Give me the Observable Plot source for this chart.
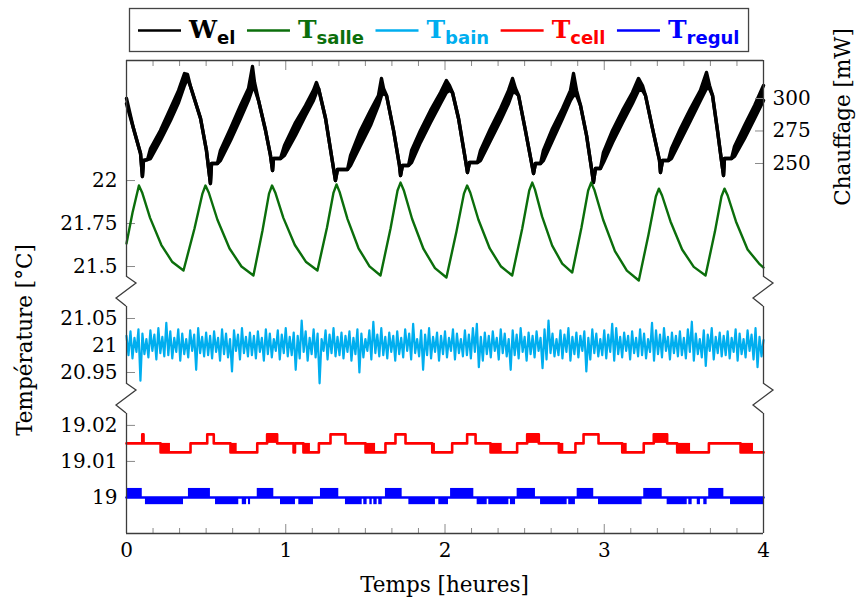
<!DOCTYPE html>
<html>
<head>
<meta charset="utf-8">
<script src="https://cdn.jsdelivr.net/npm/d3@7"></script>
<script src="https://cdn.jsdelivr.net/npm/@observablehq/plot@0.6"></script>
<style>
  html, body { margin: 0; padding: 0; background: #fff; }
  #chart { position: relative; width: 858px; height: 606px; overflow: hidden; background: #fff; }
  #chart svg { position: absolute; left: 0; }
</style>
</head>
<body>
<div id="chart"></div>
<script>
// ---------------- data ----------------
const hourTicks = [0, 1, 2, 3, 4];
const minorTickMinutes = [10, 20, 30, 40, 50];
const tempTicksTop = [21.5, 21.75, 22];
const tempTicksMid = [20.95, 21, 21.05];
const tempTicksLow = [19, 19.01, 19.02];
const powerTicks = [250, 275, 300];
const tempTopDomain = [21.442, 22.698];
const tempMidDomain = [20.9296, 21.0722];
const tempLowDomain = [18.99, 19.0233];
const powerDomain = [163.1, 329.2];

const legendNames = ["W", "T", "T", "T", "T"];
const legendSubs = ["el", "salle", "bain", "cell", "regul"];
const legendColors = ["#000000", "#0b6e0b", "#00aeef", "#ff0000", "#0000ff"];

// W_el [hours, lower edge mW, upper edge mW] (noisy band)
const wElRows = [
  [0.000, 296.0, 300.0], [0.044, 276.9, 276.9], [0.088, 257.7, 257.7], [0.100, 240.0, 240.0],
  [0.107, 252.3, 252.3], [0.132, 253.0, 253.0], [0.151, 253.8, 261.5], [0.213, 267.7, 275.4],
  [0.276, 283.1, 292.3], [0.327, 296.9, 306.2], [0.364, 310.0, 319.2], [0.383, 315.4, 318.5],
  [0.402, 309.2, 309.2], [0.465, 284.6, 284.6], [0.502, 260.0, 260.0], [0.527, 234.6, 234.6],
  [0.534, 250.0, 250.0], [0.571, 250.0, 250.0], [0.590, 252.3, 260.0], [0.653, 267.7, 276.9],
  [0.716, 284.6, 294.6], [0.766, 298.5, 307.7], [0.791, 307.7, 324.6], [0.804, 307.7, 312.3],
  [0.829, 298.5, 298.5], [0.873, 275.4, 275.4], [0.904, 256.2, 256.2], [0.917, 244.6, 244.6],
  [0.923, 253.8, 253.8], [0.967, 253.8, 253.8], [0.992, 256.2, 263.8], [1.061, 271.5, 281.5],
  [1.124, 286.9, 294.6], [1.174, 298.5, 306.2], [1.193, 304.6, 312.3], [1.206, 307.7, 307.7],
  [1.250, 284.6, 284.6], [1.300, 246.2, 246.2], [1.312, 236.9, 236.9], [1.325, 245.4, 245.4],
  [1.388, 245.4, 245.4], [1.407, 248.5, 256.2], [1.469, 263.8, 275.4], [1.532, 279.2, 290.8],
  [1.582, 294.6, 302.3], [1.601, 302.3, 315.4], [1.614, 303.8, 307.7], [1.633, 302.3, 302.3],
  [1.677, 275.4, 275.4], [1.714, 248.5, 248.5], [1.721, 240.8, 240.8], [1.733, 248.5, 248.5],
  [1.771, 248.5, 248.5], [1.790, 250.8, 260.0], [1.846, 266.2, 275.4], [1.909, 281.5, 290.8],
  [1.972, 296.2, 304.6], [2.009, 304.6, 313.8], [2.028, 306.2, 310.0], [2.047, 304.6, 304.6],
  [2.085, 284.6, 284.6], [2.129, 252.3, 252.3], [2.141, 243.1, 243.1], [2.154, 250.8, 250.8],
  [2.204, 250.8, 250.8], [2.223, 252.3, 260.0], [2.286, 267.7, 276.9], [2.349, 283.1, 292.3],
  [2.399, 296.2, 306.2], [2.424, 304.6, 315.4], [2.443, 304.6, 307.7], [2.462, 302.3, 302.3],
  [2.505, 275.4, 275.4], [2.543, 250.8, 250.8], [2.556, 242.3, 242.3], [2.568, 250.0, 250.0],
  [2.600, 250.0, 250.0], [2.618, 252.3, 260.0], [2.675, 267.7, 276.9], [2.738, 284.6, 292.3],
  [2.788, 298.5, 306.2], [2.807, 302.3, 319.2], [2.826, 302.3, 306.2], [2.851, 294.6, 294.6],
  [2.889, 271.5, 271.5], [2.920, 246.2, 246.2], [2.932, 235.4, 235.4], [2.945, 246.2, 246.2],
  [2.976, 246.2, 246.2], [2.995, 250.8, 258.5], [3.052, 266.2, 275.4], [3.115, 281.5, 290.8],
  [3.177, 296.2, 304.6], [3.215, 306.2, 315.4], [3.240, 306.2, 310.0], [3.259, 302.3, 302.3],
  [3.303, 276.9, 276.9], [3.347, 252.3, 252.3], [3.353, 243.1, 243.1], [3.366, 252.3, 252.3],
  [3.403, 252.3, 252.3], [3.422, 253.8, 261.5], [3.479, 267.7, 276.9], [3.542, 283.1, 292.3],
  [3.604, 298.5, 306.2], [3.642, 307.7, 320.0], [3.661, 307.7, 310.0], [3.680, 302.3, 302.3],
  [3.711, 275.4, 275.4], [3.736, 252.3, 252.3], [3.749, 240.8, 240.8], [3.755, 253.8, 253.8],
  [3.799, 253.8, 253.8], [3.818, 255.4, 263.1], [3.881, 269.2, 279.2], [3.944, 284.6, 294.6],
  [4.000, 298.5, 310.0]
];

// T_salle [hours, °C]
const tSalleRows = [
  [0.000, 21.634], [0.038, 21.814], [0.078, 21.971], [0.098, 21.931], [0.148, 21.783],
  [0.219, 21.625], [0.288, 21.526], [0.358, 21.477], [0.427, 21.721], [0.477, 21.924],
  [0.496, 21.971], [0.517, 21.929], [0.571, 21.772], [0.647, 21.605], [0.722, 21.500],
  [0.797, 21.448], [0.854, 21.709], [0.895, 21.924], [0.914, 21.971], [0.934, 21.931],
  [0.985, 21.783], [1.057, 21.625], [1.128, 21.526], [1.199, 21.477], [1.259, 21.727],
  [1.300, 21.930], [1.319, 21.977], [1.338, 21.934], [1.388, 21.776], [1.457, 21.606],
  [1.526, 21.501], [1.595, 21.448], [1.658, 21.721], [1.702, 21.942], [1.721, 21.988],
  [1.741, 21.944], [1.793, 21.778], [1.865, 21.602], [1.937, 21.491], [2.009, 21.436],
  [2.072, 21.703], [2.119, 21.924], [2.139, 21.971], [2.159, 21.929], [2.210, 21.772],
  [2.281, 21.605], [2.352, 21.500], [2.422, 21.448], [2.485, 21.721], [2.529, 21.942],
  [2.548, 21.988], [2.565, 21.947], [2.610, 21.790], [2.673, 21.622], [2.736, 21.517],
  [2.799, 21.465], [2.857, 21.727], [2.899, 21.942], [2.918, 21.988], [2.939, 21.943],
  [2.993, 21.772], [3.067, 21.590], [3.142, 21.476], [3.217, 21.419], [3.278, 21.686],
  [3.324, 21.907], [3.343, 21.953], [3.363, 21.913], [3.416, 21.762], [3.489, 21.599],
  [3.562, 21.498], [3.636, 21.448], [3.695, 21.703], [3.736, 21.907], [3.755, 21.953],
  [3.775, 21.913], [3.827, 21.762], [3.900, 21.599], [3.972, 21.517], [4.000, 21.494]
];

// T_bain: samples every 0.0125 h (°C)
const tBainStep = 0.0125;
const tBainValues = [
  21.018, 20.982, 21.026, 20.976, 21.014, 20.988, 21.030, 20.935, 21.022, 20.984,
  21.012, 20.978, 21.028, 20.990, 21.020, 20.974, 21.032, 20.986, 21.016, 20.980,
  21.042, 20.982, 21.026, 20.976, 21.014, 20.988, 21.030, 20.972, 21.022, 20.984,
  21.012, 20.978, 21.028, 20.990, 21.020, 20.955, 21.032, 20.986, 21.016, 20.980,
  21.024, 20.982, 21.018, 20.976, 21.026, 20.988, 21.014, 20.972, 21.030, 20.984,
  21.022, 20.978, 21.012, 20.952, 21.028, 20.990, 21.020, 20.974, 21.032, 20.986,
  21.016, 20.980, 21.024, 20.982, 21.018, 20.976, 21.026, 20.988, 21.014, 20.972,
  21.030, 20.984, 21.022, 20.978, 21.012, 20.990, 21.028, 20.974, 21.020, 20.986,
  21.032, 20.980, 21.016, 20.982, 21.024, 20.955, 21.018, 20.976, 21.046, 20.988,
  21.026, 20.972, 21.014, 20.984, 21.030, 20.978, 21.022, 20.930, 21.012, 20.990,
  21.028, 20.974, 21.020, 20.986, 21.032, 20.980, 21.016, 20.982, 21.024, 20.976,
  21.018, 20.988, 21.026, 20.972, 21.014, 20.984, 21.030, 20.950, 21.022, 20.978,
  21.012, 20.990, 21.028, 20.974, 21.044, 20.986, 21.020, 20.980, 21.032, 20.982,
  21.016, 20.976, 21.024, 20.988, 21.018, 20.972, 21.026, 20.984, 21.014, 20.978,
  21.030, 20.990, 21.022, 20.974, 21.040, 20.986, 21.012, 20.980, 21.028, 20.955,
  21.020, 20.982, 21.032, 20.976, 21.016, 20.988, 21.024, 20.972, 21.018, 20.984,
  21.026, 20.978, 21.014, 20.990, 21.030, 20.974, 21.022, 20.986, 21.012, 20.980,
  21.028, 20.982, 21.020, 20.976, 21.032, 20.988, 21.040, 20.960, 21.016, 20.972,
  21.024, 20.984, 21.018, 20.978, 21.026, 20.990, 21.014, 20.974, 21.030, 20.986,
  21.022, 20.980, 21.012, 20.955, 21.028, 20.982, 21.020, 20.976, 21.032, 20.988,
  21.016, 20.972, 21.024, 20.984, 21.018, 20.978, 21.026, 20.990, 21.014, 20.958,
  21.030, 20.974, 21.046, 20.986, 21.022, 20.980, 21.012, 20.982, 21.028, 20.976,
  21.020, 20.988, 21.032, 20.972, 21.016, 20.984, 21.024, 20.978, 21.018, 20.990,
  21.026, 20.952, 21.014, 20.974, 21.030, 20.986, 21.022, 20.980, 21.012, 20.982,
  21.028, 20.976, 21.020, 20.988, 21.040, 20.972, 21.032, 20.984, 21.016, 20.978,
  21.024, 20.990, 21.018, 20.974, 21.026, 20.986, 21.014, 20.980, 21.030, 20.982,
  21.022, 20.976, 21.012, 20.988, 21.042, 20.972, 21.028, 20.984, 21.020, 20.978,
  21.032, 20.990, 21.016, 20.974, 21.024, 20.986, 21.018, 20.980, 21.026, 20.982,
  21.014, 20.976, 21.030, 20.988, 21.044, 20.972, 21.022, 20.984, 21.012, 20.978,
  21.028, 20.962, 21.020, 20.990, 21.032, 20.974, 21.016, 20.986, 21.024, 20.980,
  21.018, 20.982, 21.026, 20.976, 21.014, 20.988, 21.030, 20.972, 21.022, 20.984,
  21.012, 20.978, 21.028, 20.990, 21.020, 20.974, 21.032, 20.960, 21.016, 20.980,
  21.010
];

// T_cell: step levels [hours, °C] (value held until next row)
const tCellSteps = [
  [0.000, 19.015], [0.099, 19.0175], [0.107, 19.015], [0.214, 19.0125], [0.402, 19.015],
  [0.507, 19.0175], [0.548, 19.015], [0.653, 19.0125], [0.821, 19.015], [0.883, 19.0175],
  [0.946, 19.015], [1.049, 19.0125], [1.058, 19.015], [1.111, 19.0125], [1.208, 19.015],
  [1.281, 19.0175], [1.375, 19.015], [1.501, 19.0125], [1.626, 19.015], [1.689, 19.0175],
  [1.752, 19.015], [1.920, 19.0125], [2.045, 19.015], [2.139, 19.0175], [2.192, 19.015],
  [2.286, 19.0125], [2.453, 19.015], [2.516, 19.0175], [2.589, 19.015], [2.715, 19.0125],
  [2.819, 19.015], [2.870, 19.0175], [2.964, 19.015], [3.113, 19.0125], [3.248, 19.015],
  [3.311, 19.0175], [3.395, 19.015], [3.458, 19.0125], [3.657, 19.015], [3.856, 19.0125],
  [4.000, 19.0125]
];
// T_cell: intervals of fast toggling [start h, end h, low °C, high °C]
const tCellToggles = [
  [0.214, 0.276, 19.0125, 19.015], [0.653, 0.695, 19.0125, 19.015], [0.883, 0.946, 19.015, 19.0175],
  [1.111, 1.155, 19.0125, 19.015], [1.501, 1.564, 19.0125, 19.015], [1.920, 1.940, 19.0125, 19.015],
  [2.286, 2.359, 19.0125, 19.015], [2.516, 2.589, 19.015, 19.0175], [2.715, 2.746, 19.0125, 19.015],
  [3.113, 3.144, 19.0125, 19.015], [3.311, 3.395, 19.015, 19.0175], [3.458, 3.542, 19.0125, 19.015],
  [3.856, 3.937, 19.0125, 19.015]
];

// T_regul: base level and fast-toggling intervals [start h, end h]
const tRegulBase = 19.0;
const tRegulHighLevel = 19.0025;
const tRegulLowLevel = 18.998;
const tRegulHigh = [
  [0.000, 0.099], [0.389, 0.527], [0.821, 0.925], [1.218, 1.333], [1.626, 1.731],
  [2.035, 2.181], [2.453, 2.568], [2.830, 2.934], [3.248, 3.364], [3.656, 3.751]
];
const tRegulLow = [
  [0.119, 0.358], [0.559, 0.705], [0.727, 0.754], [0.766, 0.779], [0.967, 1.061],
  [1.082, 1.174], [1.375, 1.480], [1.490, 1.511], [1.528, 1.543], [1.553, 1.574],
  [1.584, 1.606], [1.773, 1.940], [1.961, 2.022], [2.202, 2.265], [2.275, 2.401],
  [2.411, 2.443], [2.600, 2.767], [2.777, 2.819], [2.964, 3.238], [3.395, 3.521],
  [3.531, 3.552], [3.584, 3.604], [3.625, 3.646], [3.793, 4.000]
];

// ---------------- drawing ----------------
const chart = document.getElementById("chart");
const frameColor = "#3c3c3c";
const tickColor = "#8a8a8a";
const fontFamily = "DejaVu Serif";
const baseStyle = {fontFamily, fontSize: "20px", background: "transparent", overflow: "visible", color: "#000"};
const tempFmt = d => String(+d.toFixed(3));
const minorTicks = hourTicks.slice(0, -1).flatMap(h => minorTickMinutes.map(m => h + m / 60));

const salle = tSalleRows.map(([t, v]) => ({t, v}));
const wel = wElRows.map(([t, lo, hi]) => ({t, lo, hi}));
const bain = tBainValues.map((v, i) => ({t: i * tBainStep, v}));
const cellSteps = tCellSteps.map(([t, v]) => ({t, v}));
const cellToggles = tCellToggles.map(([t1, t2, lo, hi]) => ({t1, t2, lo, hi}));
const regulLine = [{t: 0, v: tRegulBase}, {t: 4, v: tRegulBase}];
const regulHigh = tRegulHigh.map(([t1, t2]) => ({t1, t2, lo: tRegulBase, hi: tRegulHighLevel}));
const regulLow = tRegulLow.map(([t1, t2]) => ({t1, t2, lo: tRegulLowLevel, hi: tRegulBase}));

const W = 858, ML = 126, MR = 95;
const common = {width: W, marginLeft: ML, marginRight: MR, x: {domain: [0, 4], axis: null}, style: baseStyle};

function place(svg, top) {
  svg.style.position = "absolute";
  svg.style.left = "0px";
  svg.style.top = top + "px";
  svg.setAttribute("font-family", fontFamily);
  svg.setAttribute("font-size", "20");
  svg.querySelectorAll("text").forEach(t => { t.setAttribute("font-family", fontFamily); t.style.fontFamily = fontFamily; });
  chart.appendChild(svg);
  return svg;
}

// top segment: W_el on the right-hand power axis (drawn first, underneath)
const topA = 50, heightA = 226, marginTopA = 10;
const plotW = Plot.plot({
  ...common, height: heightA, marginTop: marginTopA, marginBottom: 0,
  y: {domain: powerDomain, axis: null},
  marks: [
    Plot.areaY(wel, {x: "t", y1: "lo", y2: "hi", fill: "#000"}),
    Plot.line(wel, {x: "t", y: "lo", stroke: "#000", strokeWidth: 3.4}),
    Plot.line(wel, {x: "t", y: "hi", stroke: "#000", strokeWidth: 3.4}),
    Plot.axisY(powerTicks, {anchor: "right", tickSize: -9, stroke: tickColor, label: null})
  ]
});
place(plotW, topA);

// top segment: T_salle on the temperature axis
const plotA = Plot.plot({
  ...common, height: heightA, marginTop: marginTopA, marginBottom: 0,
  y: {domain: tempTopDomain, axis: null},
  marks: [
    Plot.axisX(minorTicks, {anchor: "top", tickSize: -5, tickFormat: () => "", stroke: tickColor, label: null}),
    Plot.axisX(hourTicks, {anchor: "top", tickSize: -9, tickFormat: () => "", stroke: tickColor, label: null}),
    Plot.axisY(tempTicksTop, {anchor: "left", tickSize: -9, tickFormat: tempFmt, stroke: tickColor, label: null}),
    Plot.line(salle, {x: "t", y: "v", stroke: legendColors[1], strokeWidth: 2.4}),
    Plot.ruleX([0, 4], {stroke: frameColor, strokeWidth: 1.3}),
    Plot.ruleY([tempTopDomain[1]], {stroke: frameColor, strokeWidth: 1.3})
  ]
});
place(plotA, topA);

// middle segment: T_bain
const topB = 306, heightB = 77;
const plotB = Plot.plot({
  ...common, height: heightB, marginTop: 0, marginBottom: 0,
  y: {domain: tempMidDomain, axis: null},
  marks: [
    Plot.axisY(tempTicksMid, {anchor: "left", tickSize: -9, tickFormat: tempFmt, stroke: tickColor, label: null}),
    Plot.line(bain, {x: "t", y: "v", stroke: legendColors[2], strokeWidth: 2.2}),
    Plot.ruleX([0, 4], {stroke: frameColor, strokeWidth: 1.3})
  ]
});
place(plotB, topB);

// bottom segment: T_cell and T_regul + x axis
const topC = 413, heightC = 190, marginBottomC = 70;
const plotC = Plot.plot({
  ...common, height: heightC, marginTop: 0, marginBottom: marginBottomC,
  y: {domain: tempLowDomain, axis: null},
  marks: [
    Plot.axisY(tempTicksLow, {anchor: "left", tickSize: -9, tickFormat: tempFmt, stroke: tickColor, label: null}),
    Plot.axisX(minorTicks, {anchor: "bottom", tickSize: -5, tickFormat: () => "", stroke: tickColor, label: null}),
    Plot.axisX(hourTicks, {anchor: "bottom", tickSize: -9, tickFormat: d => String(d), stroke: tickColor, label: null}),
    Plot.rect(cellToggles, {x1: "t1", x2: "t2", y1: "lo", y2: "hi", fill: legendColors[3]}),
    Plot.line(cellSteps, {x: "t", y: "v", curve: "step-after", stroke: legendColors[3], strokeWidth: 2.6}),
    Plot.rect(regulHigh, {x1: "t1", x2: "t2", y1: "lo", y2: "hi", fill: legendColors[4]}),
    Plot.rect(regulLow, {x1: "t1", x2: "t2", y1: "lo", y2: "hi", fill: legendColors[4]}),
    Plot.line(regulLine, {x: "t", y: "v", stroke: legendColors[4], strokeWidth: 2.6}),
    Plot.ruleX([0, 4], {stroke: frameColor, strokeWidth: 1.3}),
    Plot.ruleY([tempLowDomain[0]], {stroke: frameColor, strokeWidth: 1.3})
  ]
});
place(plotC, topC);

// ---------------- overlay: axis breaks and axis titles ----------------
const xs = plotA.scale("x");
const xL = xs.apply(0), xR = xs.apply(4);
const yAbot = topA + plotA.scale("y").apply(tempTopDomain[0]);
const yBtop = topB + plotB.scale("y").apply(tempMidDomain[1]);
const yBbot = topB + plotB.scale("y").apply(tempMidDomain[0]);
const yCtop = topC + plotC.scale("y").apply(tempLowDomain[1]);

const ov = d3.create("svg").attr("width", W).attr("height", 606)
  .style("position", "absolute").style("left", "0px").style("top", "0px")
  .style("pointer-events", "none").attr("font-family", fontFamily);
const zig = (x, y0, y1) => `M${x},${y0}L${x + 10},${y0 + 7}L${x - 10},${y1 - 8}L${x},${y1}`;
for (const x of [xL, xR]) {
  ov.append("path").attr("d", zig(x, yAbot, yBtop)).attr("fill", "none").attr("stroke", frameColor).attr("stroke-width", 1.3);
  ov.append("path").attr("d", zig(x, yBbot, yCtop)).attr("fill", "none").attr("stroke", frameColor).attr("stroke-width", 1.3);
}
ov.append("text").text("Température [°C]").attr("font-size", 21.5)
  .attr("text-anchor", "middle").attr("transform", `translate(32,340) rotate(-90)`);
ov.append("text").text("Chauffage [mW]").attr("font-size", 21.5)
  .attr("text-anchor", "middle").attr("transform", `translate(850,117) rotate(-90)`);
ov.append("text").text("Temps [heures]").attr("font-size", 21.5)
  .attr("text-anchor", "middle").attr("x", (xL + xR) / 2).attr("y", 592);
chart.appendChild(ov.node());

// ---------------- legend ----------------
const lg = d3.create("svg").attr("width", W).attr("height", 58)
  .style("position", "absolute").style("left", "0px").style("top", "0px");
chart.appendChild(lg.node());
const box = lg.append("rect").attr("x", 129.5).attr("y", 8.5).attr("height", 43)
  .attr("fill", "#fff").attr("stroke", "#444").attr("stroke-width", 1.3);
let lx = 138;
legendNames.forEach((name, i) => {
  lg.append("line").attr("x1", lx).attr("x2", lx + 43).attr("y1", 30.5).attr("y2", 30.5)
    .attr("stroke", legendColors[i]).attr("stroke-width", 2.6);
  const t = lg.append("text").attr("x", lx + 51).attr("y", 38).attr("fill", legendColors[i]);
  t.append("tspan").text(name).attr("font-family", "DejaVu Serif").attr("font-weight", "bold").attr("font-size", 25);
  t.append("tspan").text(legendSubs[i]).attr("font-family", "DejaVu Sans").attr("font-weight", "bold")
    .attr("font-size", 18).attr("dy", 6);
  lx = lx + 51 + t.node().getComputedTextLength() + 11.5;
});
box.attr("width", lx - 129.5 - 2.5);
</script>
</body>
</html>
